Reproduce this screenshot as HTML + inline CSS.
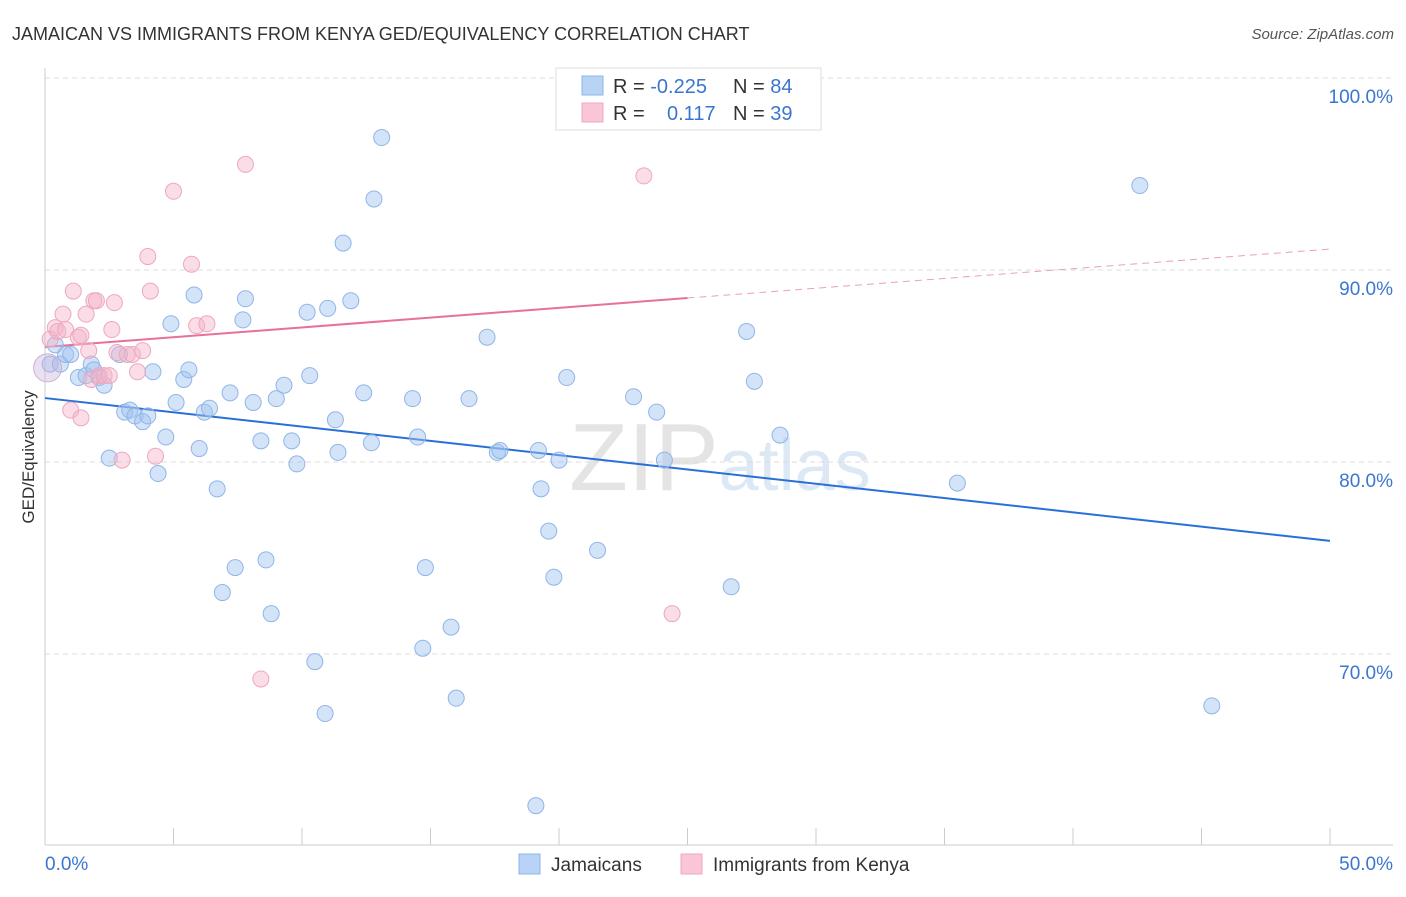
<!DOCTYPE html>
<html><head><meta charset="utf-8"><style>
body{margin:0;background:#fff;font-family:"Liberation Sans",sans-serif;}
svg text{font-family:"Liberation Sans",sans-serif;}
</style></head><body>
<svg id="chart" width="1406" height="892" xmlns="http://www.w3.org/2000/svg">
<text x="12" y="40" font-size="18" fill="#333">JAMAICAN VS IMMIGRANTS FROM KENYA GED/EQUIVALENCY CORRELATION CHART</text>
<text x="1394" y="39" font-size="15" fill="#555" text-anchor="end" font-style="italic">Source: ZipAtlas.com</text>
<text x="720" y="490" font-size="96" text-anchor="middle" fill="#e4e4e4" font-family="Liberation Serif">ZIP<tspan fill="#dde8f5" font-family="Liberation Sans" font-size="72">atlas</tspan></text>
<g id="grid"></g><g id="axes"></g><g id="lines"></g><g id="pts"></g>
<text transform="translate(34,457) rotate(-90)" font-size="17" fill="#333" text-anchor="middle">GED/Equivalency</text>
<g>
<rect x="556" y="68" width="265" height="62" fill="#fff" stroke="#ddd"/>
<rect x="582" y="76" width="21" height="19" fill="#b8d3f5" stroke="#8fb5e8"/>
<rect x="582" y="103" width="21" height="19" fill="#f9c6d6" stroke="#eea7bf"/>
<text x="613" y="93" font-size="20" fill="#333">R = <tspan fill="#3a76d0">-0.225</tspan><tspan x="733">N = </tspan><tspan fill="#3a76d0">84</tspan></text>
<text x="613" y="120" font-size="20" fill="#333">R = <tspan x="667" fill="#3a76d0">0.117</tspan><tspan x="733">N = </tspan><tspan fill="#3a76d0">39</tspan></text>
</g>
<g>
<rect x="519" y="854" width="21" height="20" fill="#b8d3f5" stroke="#8fb5e8"/>
<text x="551" y="871" font-size="19" fill="#333">Jamaicans</text>
<rect x="681" y="854" width="21" height="20" fill="#f9c6d6" stroke="#eea7bf"/>
<text x="713" y="871" font-size="19" fill="#333">Immigrants from Kenya</text>
</g>
</svg>
<script>
const xTicks=[0,5,10,15,20,25,30,35,40,45,50];
const yTicks=[100,90,80,70];
const yTickLabels=["100.0%","90.0%","80.0%","70.0%"];
const xEndLabels=["0.0%","50.0%"];
const jamX=[0.2,0.4,0.6,0.8,1.0,1.3,1.6,1.8,1.9,2.1,2.3,2.5,2.9,3.1,3.3,3.5,3.8,4.0,4.2,4.4,4.7,4.9,5.1,5.4,5.6,5.8,6.0,6.2,6.4,6.7,7.2,7.4,6.9,7.7,7.8,8.1,8.4,8.6,8.8,9.0,9.3,9.6,9.8,10.2,10.3,10.5,10.9,11.0,11.3,11.4,11.6,11.9,12.4,12.7,12.8,13.1,14.3,14.5,14.8,14.7,15.8,16.0,16.5,17.2,17.6,17.7,19.2,19.3,19.6,19.8,19.1,20.0,20.3,21.5,22.9,23.8,24.1,26.7,27.3,27.6,28.6,35.5,42.6,45.4];
const jamY=[85.1,86.1,85.1,85.6,85.6,84.4,84.5,85.1,84.8,84.4,84.0,80.2,85.6,82.6,82.7,82.4,82.1,82.4,84.7,79.4,81.3,87.2,83.1,84.3,84.8,88.7,80.7,82.6,82.8,78.6,83.6,74.5,73.2,87.4,88.5,83.1,81.1,74.9,72.1,83.3,84.0,81.1,79.9,87.8,84.5,69.6,66.9,88.0,82.2,80.5,91.4,88.4,83.6,81.0,93.7,96.9,83.3,81.3,74.5,70.3,71.4,67.7,83.3,86.5,80.5,80.6,80.6,78.6,76.4,74.0,62.1,80.1,84.4,75.4,83.4,82.6,80.1,73.5,86.8,84.2,81.4,78.9,94.4,67.3];
const kenX=[0.2,0.4,0.5,0.7,0.8,1.0,1.1,1.3,1.4,1.4,1.6,1.7,1.8,1.9,2.0,2.1,2.3,2.5,2.6,2.7,2.8,3.0,3.2,3.4,3.6,3.8,4.0,4.1,4.3,5.0,5.7,5.9,6.3,7.8,8.4,23.3,24.4,24.8];
const kenY=[86.4,87.0,86.8,87.7,86.9,82.7,88.9,86.5,82.3,86.6,87.7,85.8,84.3,88.4,88.4,84.5,84.5,84.5,86.9,88.3,85.7,80.1,85.6,85.6,84.7,85.8,90.7,88.9,80.3,94.1,90.3,87.1,87.2,95.5,68.7,94.9,72.1,99.9];
const jamTrend=[83.33,75.89];
const kenTrend=[85.99,91.09];
const kenSolidEnd=25;
const NS="http://www.w3.org/2000/svg";
const X=v=>45+v*25.7, Y=v=>78+(100-v)*19.2;
function mk(tag,attrs,parent){const e=document.createElementNS(NS,tag);for(const k in attrs)e.setAttribute(k,attrs[k]);document.getElementById(parent).appendChild(e);return e;}
yTicks.forEach((t,i)=>{
 const g=mk('line',{x1:45,x2:1393,y1:Y(t),y2:Y(t),stroke:'#ddd','stroke-dasharray':'5,4'},'grid');
 
 
 const l=mk('text',{x:1393,y:Y(t)+25,'font-size':19,fill:'#3a76d0','text-anchor':'end'},'grid');
 l.textContent=yTickLabels[i];
 
 
});
const ya=mk('line',{x1:45,x2:45,y1:68,y2:845,stroke:'#ccc'},'axes');


const xa=mk('line',{x1:45,x2:1393,y1:845,y2:845,stroke:'#ccc'},'axes');


xTicks.forEach(t=>{
 const k=mk('line',{x1:X(t),x2:X(t),y1:828,y2:845,stroke:'#ccc'},'axes');
 
 
});
[[0,'start',45],[50,'end',1393]].forEach((d,i)=>{
 const l=mk('text',{x:d[2],y:870,'font-size':19,fill:'#3a76d0','text-anchor':d[1]},'axes');
 l.textContent=xEndLabels[i];
 
 
});
const bl=mk('line',{x1:X(0),y1:Y(jamTrend[0]),x2:X(50),y2:Y(jamTrend[1]),stroke:'#2a6fd6','stroke-width':2},'lines');


const kAt=x=>kenTrend[0]+(kenTrend[1]-kenTrend[0])*x/50;
const pl=mk('line',{x1:X(0),y1:Y(kAt(0)),x2:X(kenSolidEnd),y2:Y(kAt(kenSolidEnd)),stroke:'#e8709a','stroke-width':2},'lines');


const pd=mk('line',{x1:X(kenSolidEnd),y1:Y(kAt(kenSolidEnd)),x2:X(50),y2:Y(kAt(50)),stroke:'#eaa0b8','stroke-width':1,'stroke-dasharray':'7,5'},'lines');


jamX.forEach((x,i)=>{
 const c=mk('circle',{cx:X(x),cy:Y(jamY[i]),r:8,fill:'rgba(160,196,240,0.45)',stroke:'#8fb5e8','stroke-width':1},'pts');
 
 
});
kenX.forEach((x,i)=>{
 const c=mk('circle',{cx:X(x),cy:Y(kenY[i]),r:8,fill:'rgba(244,180,200,0.45)',stroke:'#eea7bf','stroke-width':1},'pts');
 
 
});
const big=mk('circle',{cx:X(0.1),cy:Y(84.9),r:14,fill:'rgba(200,180,220,0.4)',stroke:'#d0b0d0','stroke-width':1},'pts');


</script>
</body></html>
